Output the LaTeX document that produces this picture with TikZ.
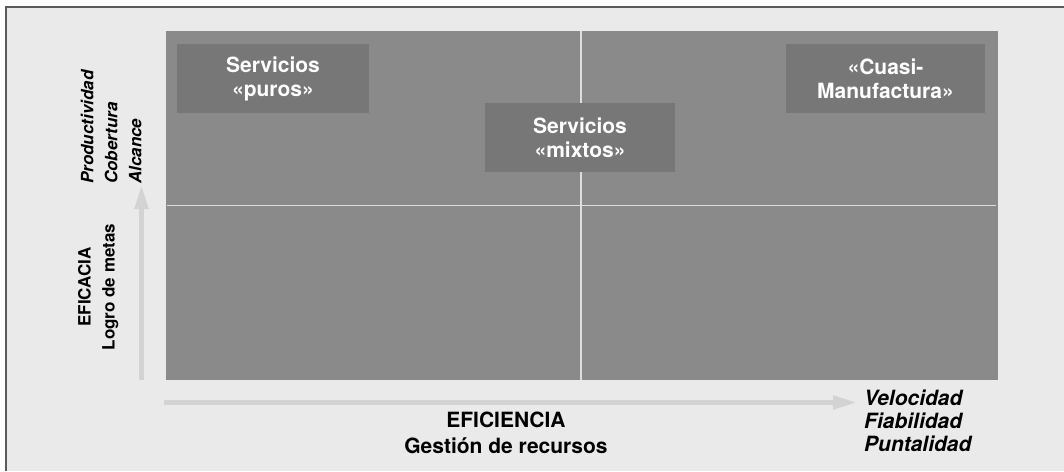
\documentclass[tikz,border=0pt]{standalone}
\usepackage{fontspec}
\setmainfont{TeX Gyre Heros}
\usetikzlibrary{arrows.meta}
\definecolor{bgc}{HTML}{EAEAEA}
\definecolor{framec}{HTML}{5A5A5A}
\definecolor{fieldc}{HTML}{8A8A8A}
\definecolor{boxc}{HTML}{777777}
\definecolor{gridc}{HTML}{DDDDDD}
\definecolor{axisc}{HTML}{D3D3D3}
\tikzset{
  quad/.style={fill=boxc, text=white, inner sep=0pt, align=center,
    font=\fontsize{21}{24}\selectfont\bfseries},
  axisarrow/.style={draw=axisc, line width=5pt,
    -{Triangle[width=13pt,length=24pt]}},
  gridline/.style={draw=gridc, line width=1.3pt},
  sidelabel/.style={inner sep=0pt, rotate=90, font=\fontsize{17}{20}\selectfont\bfseries},
  bottomlabel/.style={inner sep=0pt, font=\fontsize{21}{24}\selectfont\bfseries},
}
\begin{document}
\begin{tikzpicture}[x=1pt,y=-1pt]
\useasboundingbox (0,0) rectangle (1064,471);
% frame
\fill[white] (0,0) rectangle (1064,471);
\fill[bgc] (6,7) rectangle (1064,471);
\draw[framec, line width=1.6pt] (6,471) -- (6,7) -- (1064,7);
% field
\fill[fieldc] (166,31) rectangle (998,380);
\coordinate (hl) at (167,205.5);
\coordinate (hr) at (996,205.5);
\coordinate (vt) at (581,31);
\coordinate (vb) at (581,380);
\draw[gridline] (hl) -- (hr);
\draw[gridline] (vt) -- (vb);
% boxes
\node[quad, minimum width=192pt, minimum height=69pt] (puros) at (273,78.5) {Servicios\\«puros»};
\node[quad, minimum width=190pt, minimum height=69pt] (mixtos) at (580,137.5) {Servicios\\«mixtos»};
\node[quad, minimum width=199pt, minimum height=69pt] (cuasi) at (885.5,78.5) {«Cuasi-\\Manufactura»};
% axes
\coordinate (ys) at (141.5,380);
\coordinate (ye) at (141.5,185);
\coordinate (xs) at (164,402.5);
\coordinate (xe) at (857,402.5);
\draw[axisarrow] (ys) -- (ye);
\draw[axisarrow] (xs) -- (xe);
% left labels
\node[sidelabel, anchor=base west, font=\fontsize{17}{20}\selectfont\bfseries\itshape] (prod) at (93.3,184) {Productividad};
\node[sidelabel, anchor=base west, font=\fontsize{17}{20}\selectfont\bfseries\itshape] (cob) at (117.3,184) {Cobertura};
\node[sidelabel, anchor=base west, font=\fontsize{17}{20}\selectfont\bfseries\itshape] (alc) at (141.3,184) {Alcance};
\node[sidelabel, anchor=base] (efica) at (90.7,287) {EFICACIA};
\node[sidelabel, anchor=base] (logro) at (114.5,287) {Logro de metas};
% bottom labels
\node[bottomlabel, anchor=base] (efici) at (506,427) {EFICIENCIA};
\node[bottomlabel, anchor=base] (gest) at (506,453) {Gestión de recursos};
\node[bottomlabel, anchor=base west, font=\fontsize{21}{24}\selectfont\bfseries\itshape] (vel) at (864,405) {Velocidad};
\node[bottomlabel, anchor=base west, font=\fontsize{21}{24}\selectfont\bfseries\itshape] (fia) at (864,428) {Fiabilidad};
\node[bottomlabel, anchor=base west, font=\fontsize{21}{24}\selectfont\bfseries\itshape] (pun) at (864,451.7) {Puntalidad};
\end{tikzpicture}
\end{document}
